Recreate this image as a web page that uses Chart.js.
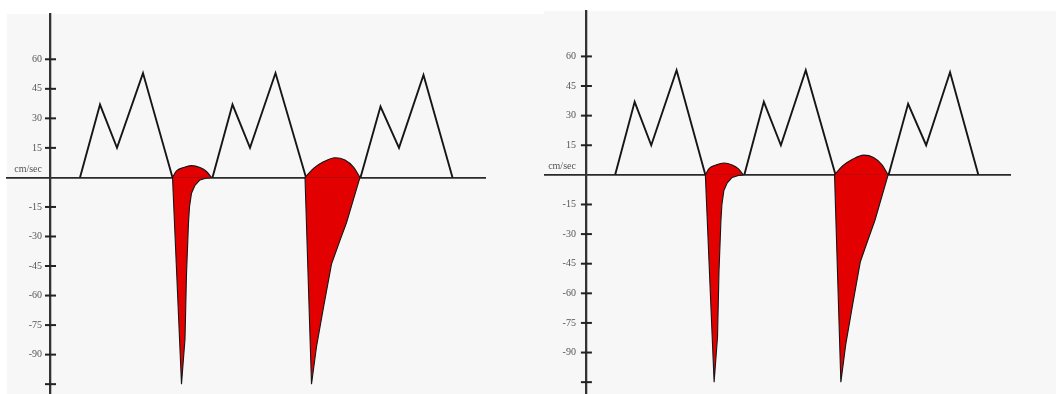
<!DOCTYPE html>
<html>
<head>
<meta charset="utf-8">
<script src="https://cdn.jsdelivr.net/npm/chart.js@4.4.1/dist/chart.umd.min.js"></script>
<style>
  html, body { margin: 0; padding: 0; background: #ffffff; }
  body { width: 1056px; height: 394px; position: relative; overflow: hidden; }
  .panel { position: absolute; background: #f7f7f7; }
  #p1 { left: 7px; top: 14px; width: 537px; height: 380px; }
  #p2 { left: 544px; top: 11px; width: 512px; height: 383px; }
  canvas { position: absolute; top: 0; }
  #c1 { left: 0; width: 544px; height: 394px; }
  #c2 { left: 544px; width: 512px; height: 394px; }
</style>
</head>
<body>
<div class="panel" id="p1"></div>
<div class="panel" id="p2"></div>
<canvas id="c1" width="544" height="394"></canvas>
<canvas id="c2" width="512" height="394"></canvas>
<script>
// Doppler velocity trace: time in ms, velocity in cm/sec.
const timeRange = [-86, 870];

const velocityTicks = [60, 45, 30, 15, -15, -30, -45, -60, -75, -90, -105];
const tickLabels = ['60', '45', '30', '15', '-15', '-30', '-45', '-60', '-75', '-90', ''];
const unitLabel = 'cm/sec';

// forward flow complexes (black outline)
const forward1 = [[60, 0], [100, 37], [134, 15], [186, 53], [245, 0]];
const forward2 = [[325, 0], [365, 37], [400, 15], [451, 53], [512, 0]];
const forward3 = [[621, 0], [661, 36], [698, 15], [747, 52], [805, 0]];

// reversed flow jets (red): small hump above baseline, deep spike below
const hump1 = [[245, 0], [253, 3.3], [267, 5], [283, 6], [300, 5], [313, 3], [323, 0]];
const spike1 = [[245, 0], [263, -105], [270, -82], [273, -49], [277, -23], [279, -15],
                [283, -8], [290, -4], [300, -1.3], [313, -0.3], [323, 0]];
const hump2 = [[510, 0], [527, 4.6], [547, 7.9], [570, 10], [590, 8.8], [607, 5.2], [620, 0]];
const spike2 = [[510, 0], [523, -105], [533, -86], [547, -66], [563, -44], [580, -32],
                [593, -23], [620, 0]];

const toPoints = arr => arr.map(([t, v]) => ({ x: t, y: v }));

// cross tick marks, tick labels and unit caption on the velocity axis
const axisMarks = {
  id: 'axisMarks',
  afterDraw(chart, args, opts) {
    const { ctx, scales: { x, y } } = chart;
    const ax = x.getPixelForValue(0);
    const zero = y.getPixelForValue(0);
    ctx.save();
    ctx.strokeStyle = '#222';
    ctx.lineWidth = 2;
    ctx.font = '10px "Liberation Serif", "DejaVu Serif", serif';
    ctx.fillStyle = '#555';
    ctx.textAlign = 'right';
    ctx.textBaseline = 'middle';
    y.ticks.forEach((tick, i) => {
      const py = y.getPixelForValue(tick.value);
      ctx.beginPath();
      ctx.moveTo(ax - 5, py);
      ctx.lineTo(ax + 6, py);
      ctx.stroke();
      if (tickLabels[i]) ctx.fillText(tickLabels[i], ax - opts.gap, py);
    });
    ctx.fillText(unitLabel, ax - opts.gap, zero - 8);
    ctx.restore();
  }
};

function traceDatasets() {
  const fwd = d => ({
    data: toPoints(d), borderColor: '#161616', borderWidth: 1.9,
    pointRadius: 0, fill: false, tension: 0
  });
  const jet = (d, smooth) => ({
    data: toPoints(d), borderColor: '#161616', borderWidth: 1.1,
    backgroundColor: '#e30000', pointRadius: 0, fill: 'origin',
    tension: smooth ? 0.4 : 0, cubicInterpolationMode: smooth ? 'monotone' : 'default'
  });
  return [
    jet(hump1, true), jet(spike1, false), jet(hump2, true), jet(spike2, false),
    fwd(forward1), fwd(forward2), fwd(forward3)
  ];
}

function makeChart(id, padding, yMin, yMax, gap) {
  return new Chart(document.getElementById(id), {
    type: 'line',
    data: { datasets: traceDatasets() },
    plugins: [axisMarks],
    options: {
      responsive: false,
      animation: false,
      layout: { padding },
      plugins: {
        legend: { display: false },
        tooltip: { enabled: false },
        axisMarks: { gap }
      },
      scales: {
        x: {
          type: 'linear',
          min: timeRange[0], max: timeRange[1],
          position: { y: 0 },
          z: 1,
          grid: { display: false },
          ticks: { display: false },
          border: { display: true, color: '#2a2a2a', width: 1.7 }
        },
        y: {
          type: 'linear',
          min: yMin, max: yMax,
          position: { x: 0 },
          grid: { display: false },
          ticks: { display: false },
          afterBuildTicks: scale => { scale.ticks = velocityTicks.map(v => ({ value: v })); },
          border: { display: true, color: '#333', width: 2.3 }
        }
      }
    }
  });
}

makeChart('c1', { left: 7, top: 14, right: 59, bottom: 0 }, -110, 83, 8);
makeChart('c2', { left: 0, top: 11, right: 46, bottom: 0 }, -111, 83, 10);
</script>
</body>
</html>
